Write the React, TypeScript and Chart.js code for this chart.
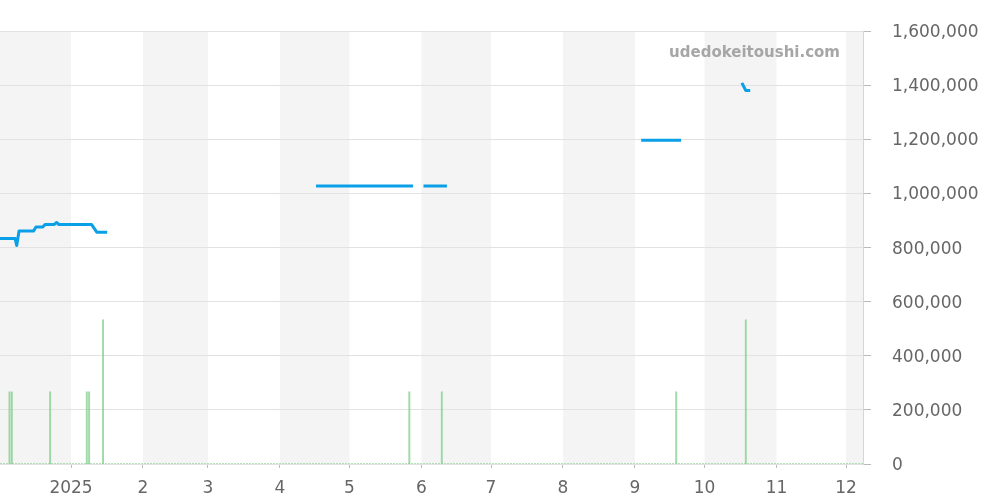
import React, { useEffect, useRef } from "react";
import { Chart, registerables } from "chart.js";

Chart.register(...registerables);

// x values are days counted from 2024-12-01
const xMinDay = 0.4;
const xMaxDay = 372.3;

const monthStartDays = [31, 62, 90, 121, 151, 182, 212, 243, 274, 304, 335, 365];
const monthLabels = ["2025", "2", "3", "4", "5", "6", "7", "8", "9", "10", "11", "12"];
// month boundaries (Dec 2024 .. Dec 2025), shaded every other month
const monthBounds = [0, 31, 62, 90, 121, 151, 182, 212, 243, 274, 304, 335, 365, 396];

const priceDays = [
  0, 6.9, 7.6, 8.6, 14.8, 15.9, 18.8, 19.8, 23.7, 24.8, 25.8, 39.9, 42.1, 46.6, 47,
  136.6, 178.4, 180,
  182.9, 193, 195,
  276.7, 293.9, 300,
  320.1, 321.8, 323.7,
];
const priceValues: (number | null)[] = [
  834000, 834000, 808000, 861000, 861000, 876000, 876000, 885000, 885000, 893000, 885000, 885000, 857000, 857000, null,
  1028000, 1028000, null,
  1028000, 1028000, null,
  1197000, 1197000, null,
  1409000, 1381000, 1381000,
];

const volumeDays = [4.5, 5.5, 22.0, 37.8, 38.8, 44.8, 176.8, 190.8, 291.8, 321.8];
const volumeValues = [1, 1, 1, 1, 1, 2, 1, 1, 1, 2];

const baselineDays = [xMinDay, xMaxDay];
const baselineValues = [0, 0];

const yTicks = [0, 200000, 400000, 600000, 800000, 1000000, 1200000, 1400000, 1600000];

const FONT = "'DejaVu Sans', sans-serif";

const bandsPlugin = {
  id: "bands",
  beforeDraw(chart: any) {
    const { ctx, chartArea, scales } = chart;
    const x = scales.x;
    ctx.save();
    ctx.beginPath();
    ctx.rect(chartArea.left, chartArea.top, chartArea.right - chartArea.left, chartArea.bottom - chartArea.top);
    ctx.clip();
    ctx.fillStyle = "#f4f4f4";
    for (let i = 0; i < monthBounds.length - 1; i += 2) {
      const a = x.getPixelForValue(monthBounds[i]);
      const b = x.getPixelForValue(monthBounds[i + 1]);
      ctx.fillRect(a, chartArea.top, b - a, chartArea.bottom - chartArea.top);
    }
    ctx.restore();
  },
  afterDraw(chart: any) {
    const { ctx } = chart;
    ctx.save();
    ctx.font = `bold 15px ${FONT}`;
    ctx.fillStyle = "#a6a6a6";
    ctx.textAlign = "right";
    ctx.textBaseline = "middle";
    ctx.fillText("udedokeitoushi.com", 840, 53);
    ctx.restore();
  },
};

export default function App() {
  const ref = useRef<HTMLCanvasElement | null>(null);
  useEffect(() => {
    if (!ref.current) return;
    const chart = new Chart(ref.current, {
      type: "bar",
      data: {
        datasets: [
          {
            type: "line",
            label: "price",
            data: priceDays.map((d, i) => ({ x: d, y: priceValues[i] })) as any,
            borderColor: "#0aa0e8",
            borderWidth: 3,
            borderJoinStyle: "round",
            pointRadius: 0,
            tension: 0,
            spanGaps: false,
            yAxisID: "y",
            order: 0,
          } as any,
          {
            type: "bar",
            label: "volume",
            data: volumeDays.map((d, i) => ({ x: d, y: volumeValues[i] })) as any,
            backgroundColor: "rgba(130,205,140,0.75)",
            barThickness: 1.3,
            yAxisID: "y2",
            order: 1,
          } as any,
          {
            type: "line",
            label: "base",
            data: baselineDays.map((d, i) => ({ x: d, y: baselineValues[i] })) as any,
            borderColor: "rgba(130,205,140,0.8)",
            borderWidth: 1.5,
            borderDash: [2, 1],
            pointRadius: 0,
            yAxisID: "y2",
            order: 2,
          } as any,
        ],
      },
      options: {
        responsive: false,
        maintainAspectRatio: false,
        animation: false,
        layout: { padding: { top: 31, left: 0, right: 0, bottom: 0 } },
        plugins: { legend: { display: false }, tooltip: { enabled: false } },
        scales: {
          x: {
            type: "linear",
            min: xMinDay,
            max: xMaxDay,
            offset: false,
            afterBuildTicks: (scale: any) => {
              scale.ticks = monthStartDays.map((v) => ({ value: v }));
            },
            afterFit: (scale: any) => {
              scale.height = 36;
            },
            ticks: {
              autoSkip: false,
              maxRotation: 0,
              padding: 10,
              color: "#666",
              font: { family: FONT, size: 17 },
              callback: (_v: any, i: number) => monthLabels[i],
            },
            grid: { offset: false, drawOnChartArea: false, drawTicks: true, tickLength: 4, color: "#bbb" },
            border: { display: false },
          },
          y: {
            position: "right",
            min: 0,
            max: 1600000,
            afterBuildTicks: (scale: any) => {
              scale.ticks = yTicks.map((v) => ({ value: v }));
            },
            afterFit: (scale: any) => {
              scale.width = 137;
            },
            ticks: {
              padding: 21,
              labelOffset: 1.5,
              color: "#666",
              font: { family: FONT, size: 17 },
              callback: (v: any) => Number(v).toLocaleString("en-US"),
            },
            grid: { color: "#e2e2e2", tickLength: 8, tickColor: "#bbb" },
            border: { display: true, color: "#d6d6d6" },
          },
          y2: {
            display: false,
            min: 0,
            max: 6,
          },
        },
      } as any,
      plugins: [bandsPlugin],
    });
    return () => chart.destroy();
  }, []);
  return (
    <div style={{ position: "absolute", left: 0, top: 0, width: 1000, height: 500, background: "#fff" }}>
      <canvas ref={ref} width={1000} height={500} style={{ width: 1000, height: 500, display: "block" }} />
    </div>
  );
}
